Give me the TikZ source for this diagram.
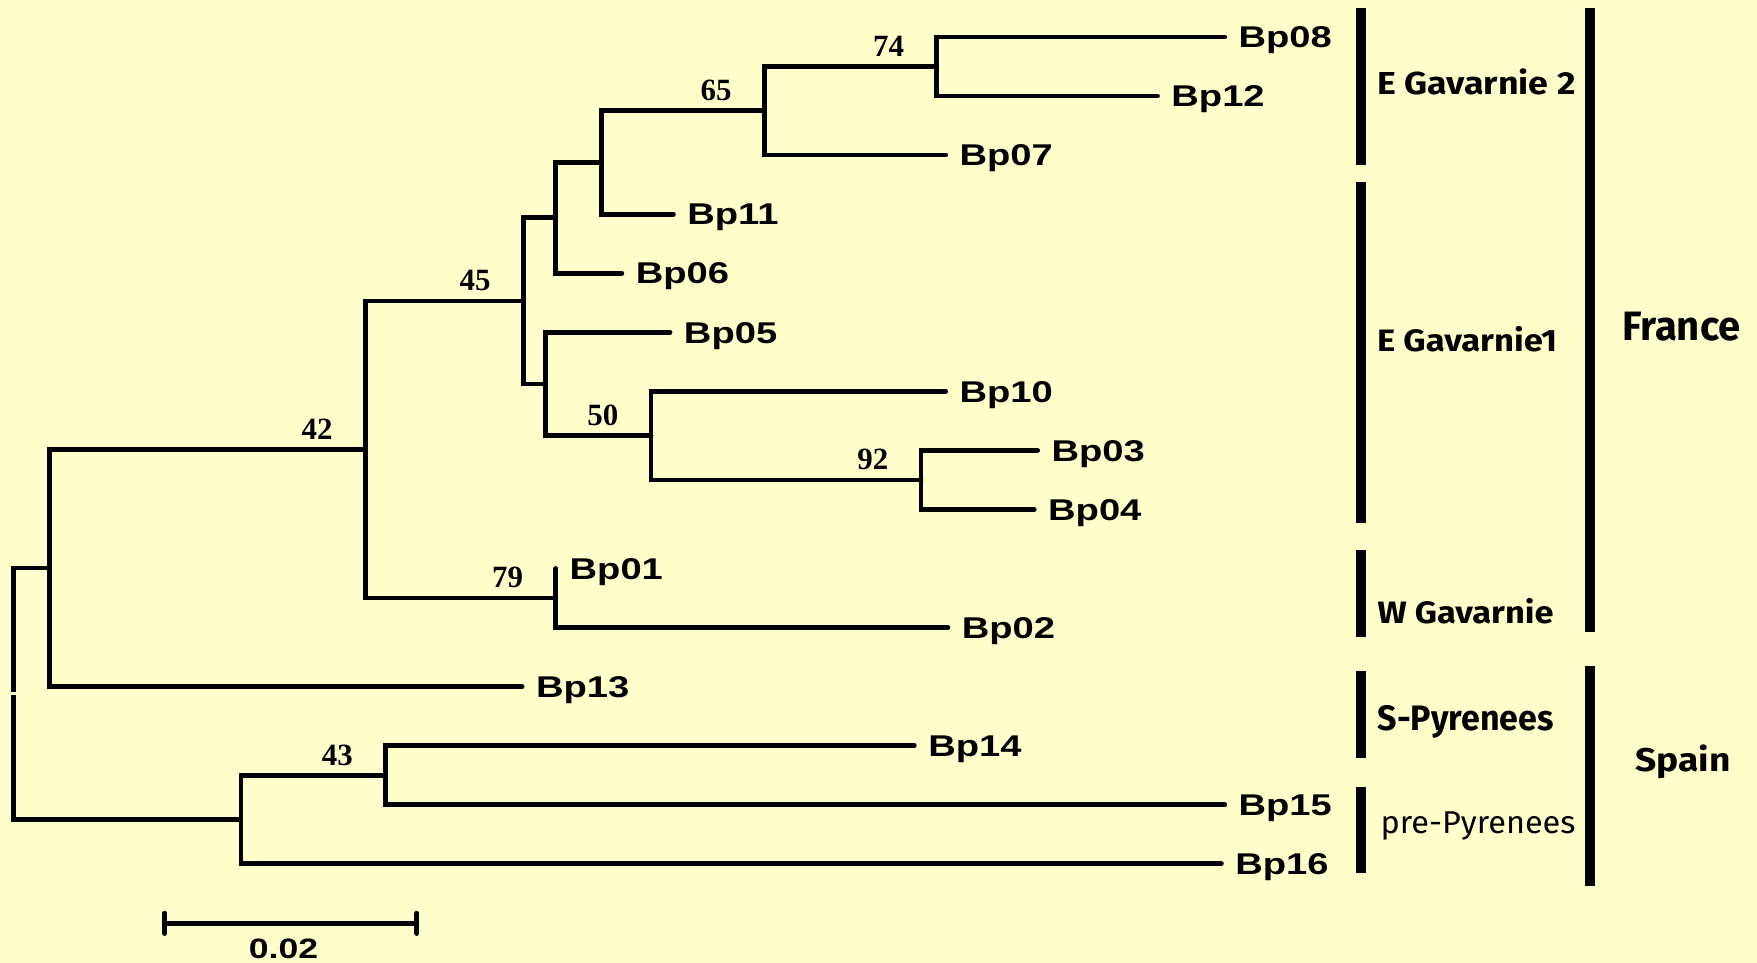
\documentclass[tikz,border=0pt]{standalone}
\usepackage{fontspec}
\usepackage{graphicx}
\newfontfamily\leaffont{Liberation Sans}[FakeStretch=1.27]
\newfontfamily\bootfont{Liberation Serif}
\newfontfamily\grpfont{Fira Sans}
\definecolor{paper}{RGB}{255,255,204}
% group label squeezed into a given width and cap height
\newcommand{\grplabel}[3]{\resizebox{#1}{#2}{#3}}

\begin{document}
\begin{tikzpicture}[x=0.5pt, y=-0.5pt,
  br/.style={line width=2.1pt, line cap=round, line join=miter},
  leaf/.style={anchor=west, inner xsep=6pt, inner ysep=0pt, text height=9.6pt, text depth=0pt,
               font=\leaffont\bfseries\fontsize{13.4}{15}\selectfont},
  boot/.style={anchor=base, inner sep=0pt, font=\bootfont\bfseries\fontsize{13.8}{15}\selectfont},
  grp/.style={anchor=base west, inner sep=0pt, font=\grpfont\bfseries},
  grplight/.style={anchor=base west, inner sep=0pt, font=\grpfont},
  bar/.style={line width=4.6pt, line cap=butt},
  sbar/.style={line width=2.2pt, line cap=round},
]
\fill[paper] (0,0) rectangle (1568,859);
\useasboundingbox (0,0) rectangle (1568,859);

% leaves (west anchor = end of the terminal branch)
\node[leaf] (Bp08) at (1093,33)    {Bp08};
\node[leaf] (Bp12) at (1033,85.7)  {Bp12};
\node[leaf] (Bp07) at (844,138.4)  {Bp07};
\node[leaf] (Bp11) at (601,191.1)  {Bp11};
\node[leaf] (Bp06) at (555,243.8)  {Bp06};
\node[leaf] (Bp05) at (598,296.5)  {Bp05};
\node[leaf] (Bp10) at (844,349.2)  {Bp10};
\node[leaf] (Bp03) at (926,401.9)  {Bp03};
\node[leaf] (Bp04) at (923,454.6)  {Bp04};
\node[leaf] (Bp01) at (496,507.3)  {Bp01};
\node[leaf] (Bp02) at (846,560)    {Bp02};
\node[leaf] (Bp13) at (466,612.7)  {Bp13};
\node[leaf] (Bp14) at (816,665.4)  {Bp14};
\node[leaf] (Bp15) at (1093,718.1) {Bp15};
\node[leaf] (Bp16) at (1090,770.8) {Bp16};

% internal nodes
\coordinate (n74)  at (836,59.4);
\coordinate (n65)  at (682,98.9);
\coordinate (n11)  at (537,145);
\coordinate (n06)  at (496,194.4);
\coordinate (n92)  at (822,428.3);
\coordinate (n50)  at (581,388.7);
\coordinate (n05)  at (487,342.6);
\coordinate (n45)  at (467,268.5);
\coordinate (n79)  at (496,533.7);
\coordinate (n42)  at (326,401.1);
\coordinate (nfr)  at (44,506.9);
\coordinate (n43)  at (344,691.8);
\coordinate (nsp)  at (215,731.3);
\coordinate (root) at (12,619.1);

% branches
\draw[br] (Bp08.west) -| (n74) |- (Bp12.west);
\draw[br] (n74) -| (n65) |- (Bp07.west);
\draw[br] (n65) -| (n11) |- (Bp11.west);
\draw[br] (n11) -| (n06) |- (Bp06.west);
\draw[br] (Bp03.west) -| (n92) |- (Bp04.west);
\draw[br] (Bp10.west) -| (n50) |- (n92);
\draw[br] (Bp05.west) -| (n05) |- (n50);
\draw[br] (n06) -| (n45) |- (n05);
\draw[br] (Bp01.west) -| (n79) |- (Bp02.west);
\draw[br] (n45) -| (n42) |- (n79);
\draw[br] (n42) -| (nfr) |- (Bp13.west);
\draw[br] (Bp14.west) -| (n43) |- (Bp15.west);
\draw[br] (n43) -| (nsp) |- (Bp16.west);
\draw[br, line cap=butt] (nfr) -| ([yshift=0.7pt]root);
\draw[br, line cap=butt] ([yshift=-0.7pt]root) |- (nsp);

% bootstrap values
\node[boot] (b74) at ([xshift=-21.5pt,yshift=4.5pt]n74) {74};
\node[boot] (b65) at ([xshift=-21.5pt,yshift=4.5pt]n65) {65};
\node[boot] (b45) at ([xshift=-21.5pt,yshift=4.5pt]n45) {45};
\node[boot] (b42) at ([xshift=-21.5pt,yshift=4.5pt]n42) {42};
\node[boot] (b50) at ([xshift=-21.5pt,yshift=4.5pt]n50) {50};
\node[boot] (b92) at ([xshift=-21.5pt,yshift=4.5pt]n92) {92};
\node[boot] (b79) at ([xshift=-21.5pt,yshift=4.5pt]n79) {79};
\node[boot] (b43) at ([xshift=-21.5pt,yshift=4.5pt]n43) {43};

% scale bar
\coordinate (sbL) at (147,824);
\coordinate (sbR) at (372,824);
\draw[sbar] (sbL) -- (sbR);
\draw[sbar] ([yshift=4.5pt]sbL) -- ([yshift=-4.5pt]sbL);
\draw[sbar] ([yshift=4.5pt]sbR) -- ([yshift=-4.5pt]sbR);
\node[anchor=base, inner sep=0pt, font=\leaffont\bfseries\fontsize{12.5}{14}\selectfont] (sblab) at (253,855.5) {0.02};

% population bars
\draw[bar] (1214.6,7.4)   -- (1214.6,147.3);
\draw[bar] (1214.6,162.5) -- (1214.6,466.7);
\draw[bar] (1214.6,490.8) -- (1214.6,568.3);
\draw[bar] (1214.6,598.9) -- (1214.6,676.3);
\draw[bar] (1214.6,701.9) -- (1214.6,779.4);
\draw[bar] (1418.7,7.4)   -- (1418.7,564.1);
\draw[bar] (1418.7,594.3) -- (1418.7,790.6);

% population labels
\node[grp] (gE2) at (1228.6,84.1)  {\grplabel{88.5pt}{11.5pt}{E Gavarnie 2}};
\node[grp] (gE1) at (1228.6,313.8) {\grplabel{80.3pt}{11.2pt}{E Gavarnie1}};
\node[grp] (gW)  at (1229,556.5)   {\grplabel{78.5pt}{11.2pt}{W Gavarnie}};
\node[grp] (gS)  at (1229,651.6)   {\grplabel{78.5pt}{11.2pt}{S-Pyrenees}};
\node[grplight] (gP) at (1231.6,743.7) {\grplabel{87pt}{9.7pt}{pre-Pyrenees}};
\node[grp] (gFr) at (1447.3,303.7) {\grplabel{52.8pt}{12.7pt}{France}};
\node[grp] (gSp) at (1459,688.5)   {\grplabel{42.5pt}{11.9pt}{Spain}};
\end{tikzpicture}
\end{document}
